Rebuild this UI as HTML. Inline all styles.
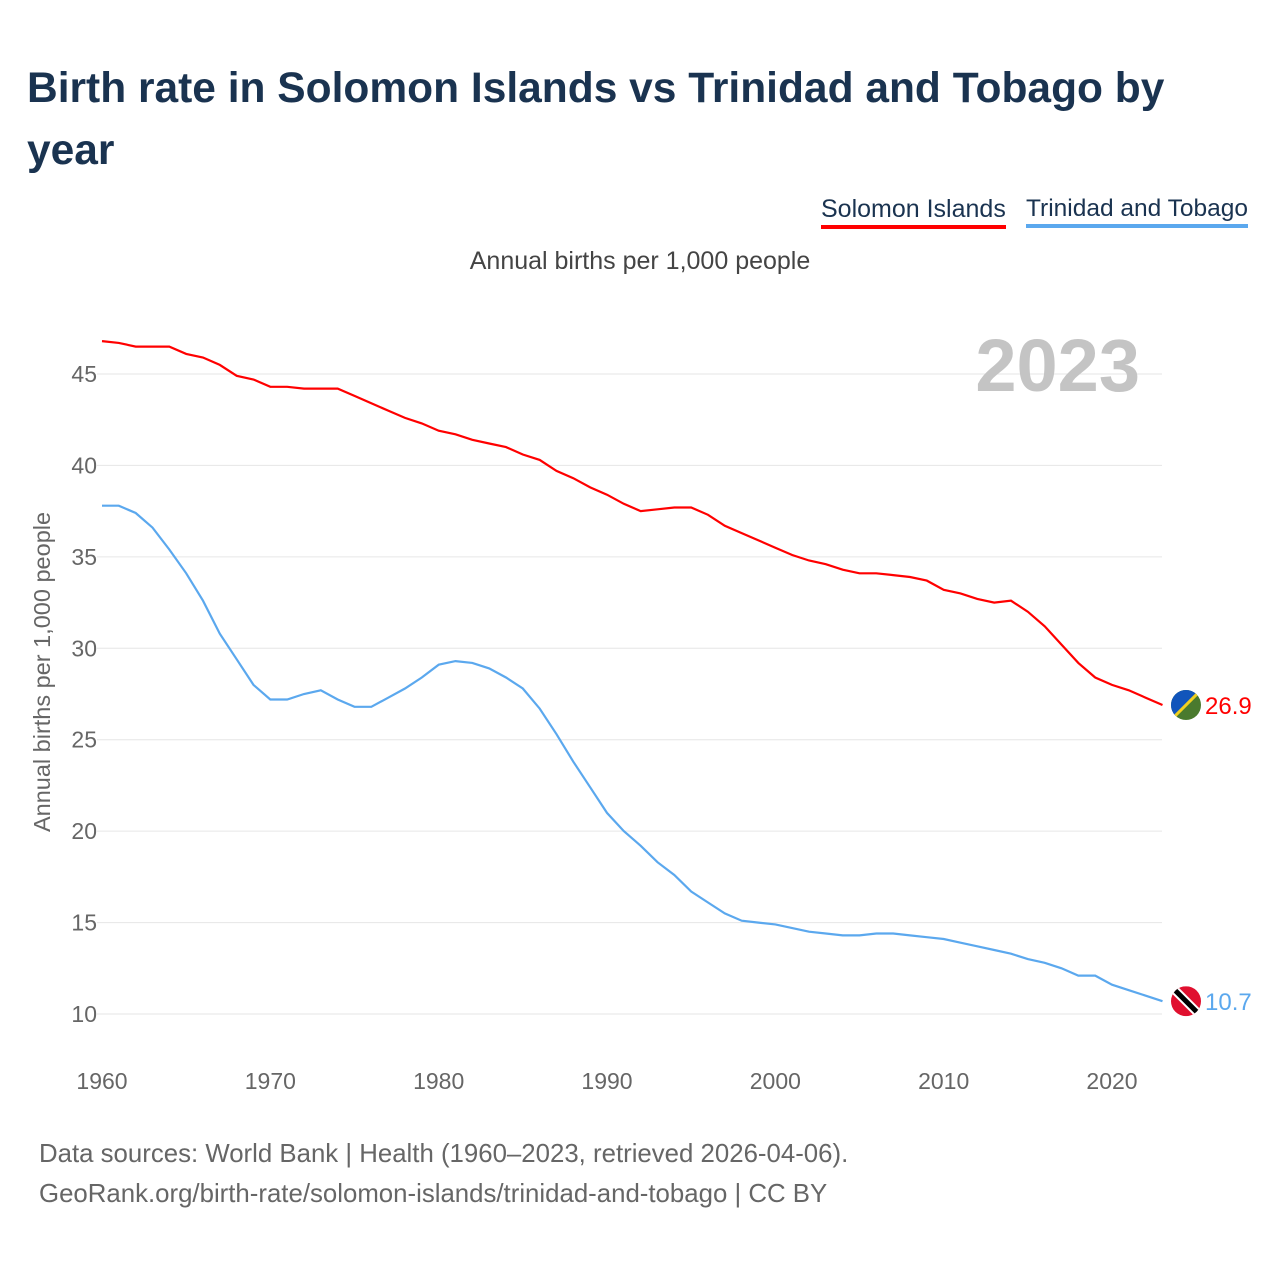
<!DOCTYPE html>
<html><head><meta charset="utf-8">
<style>
body{margin:0;background:#fff;font-family:"Liberation Sans",sans-serif;}
#wrap{position:relative;width:1280px;height:1280px;overflow:hidden;}
.t{position:absolute;white-space:nowrap;}
</style></head><body>
<div id="wrap">
<div class="t" style="left:27px;top:58px;font-size:42.5px;font-weight:bold;color:#1a3350;line-height:62px;">Birth rate in Solomon Islands vs Trinidad and Tobago by<br>year</div>
<div class="t" style="left:821px;top:195px;font-size:25px;color:#1a3350;border-bottom:4px solid #f00;padding-bottom:1px;">Solomon Islands</div>
<div class="t" style="left:1026px;top:195px;font-size:24.5px;color:#1a3350;border-bottom:4px solid #5ba8ee;padding-bottom:1px;">Trinidad and Tobago</div>
<div class="t" style="left:0;width:1280px;text-align:center;top:247px;font-size:25px;color:#444;">Annual births per 1,000 people</div>
<svg id="chart" width="1280" height="1280" style="position:absolute;left:0;top:0"></svg>
<div class="t" style="left:39px;top:1134px;font-size:25.8px;color:#666;line-height:40px;">Data sources: World Bank | Health (1960–2023, retrieved 2026-04-06).<br>GeoRank.org/birth-rate/solomon-islands/trinidad-and-tobago | CC BY</div>
</div>
<script>
const years=[];for(let y=1960;y<=2023;y++)years.push(y);
const solomon=[46.8,46.7,46.5,46.5,46.5,46.1,45.9,45.5,44.9,44.7,44.3,44.3,44.2,44.2,44.2,43.8,43.4,43.0,42.6,42.3,41.9,41.7,41.4,41.2,41.0,40.6,40.3,39.7,39.3,38.8,38.4,37.9,37.5,37.6,37.7,37.7,37.3,36.7,36.3,35.9,35.5,35.1,34.8,34.6,34.3,34.1,34.1,34.0,33.9,33.7,33.2,33.0,32.7,32.5,32.6,32.0,31.2,30.2,29.2,28.4,28.0,27.7,27.3,26.9];
const trinidad=[37.8,37.8,37.4,36.6,35.4,34.1,32.6,30.8,29.4,28.0,27.2,27.2,27.5,27.7,27.2,26.8,26.8,27.3,27.8,28.4,29.1,29.3,29.2,28.9,28.4,27.8,26.7,25.3,23.8,22.4,21.0,20.0,19.2,18.3,17.6,16.7,16.1,15.5,15.1,15.0,14.9,14.7,14.5,14.4,14.3,14.3,14.4,14.4,14.3,14.2,14.1,13.9,13.7,13.5,13.3,13.0,12.8,12.5,12.1,12.1,11.6,11.3,11.0,10.7];
const yTicks=[10,15,20,25,30,35,40,45];
const xTicks=[1960,1970,1980,1990,2000,2010,2020];
const svg=document.getElementById('chart');const NS='http://www.w3.org/2000/svg';
const xs=y=>102+(y-1960)*(1010/60);
const ys=v=>1014-(v-10)*(640/35);
function mk(tag,attrs,txt){const e=document.createElementNS(NS,tag);for(const k in attrs)e.setAttribute(k,attrs[k]);if(txt!==undefined)e.textContent=txt;svg.appendChild(e);return e;}
yTicks.forEach(v=>{
 const l=mk('line',{x1:97,x2:1162,y1:ys(v),y2:ys(v),stroke:'#e6e6e6','stroke-width':1});
 
 
 const t=mk('text',{x:97,y:ys(v)+8,'text-anchor':'end','font-size':23,fill:'#666','font-family':'Liberation Sans'},v);
 
 
});
xTicks.forEach(y=>{
 const t=mk('text',{x:xs(y),y:1089,'text-anchor':'middle','font-size':23,fill:'#666','font-family':'Liberation Sans'},y);
 
 
});
const yt=mk('text',{x:0,y:0,transform:'translate(50,672) rotate(-90)','text-anchor':'middle','font-size':23.5,fill:'#666','font-family':'Liberation Sans'},'Annual births per 1,000 people');


const yr=mk('text',{x:1140,y:391,'text-anchor':'end','font-size':74,'font-weight':'bold',fill:'#c4c4c4','font-family':'Liberation Sans'},'2023');


function line(data,color,name){
 const p=mk('path',{d:data.map((v,i)=>(i?'L':'M')+xs(years[i]).toFixed(1)+','+ys(v).toFixed(1)).join(''),fill:'none',stroke:color,'stroke-width':2.2});
 
 
}
line(solomon,'#ff0000','solomon-islands');
line(trinidad,'#5ba8ee','trinidad-and-tobago');
const sv=solomon[solomon.length-1],tv=trinidad[trinidad.length-1];
const fx=1186;
const sy=ys(sv),ty=ys(tv);
function clip(id,cy){const cp=mk('clipPath',{id:id});const c=document.createElementNS(NS,'circle');c.setAttribute('cx',fx);c.setAttribute('cy',cy);c.setAttribute('r',15);cp.appendChild(c);}
clip('c1',sy);clip('c2',ty);
mk('rect',{x:fx-15,y:sy-15,width:30,height:30,fill:'#4a7a2e','clip-path':'url(#c1)'});
mk('polygon',{points:`${fx-15},${sy-15} ${fx+15},${sy-15} ${fx-15},${sy+15}`,fill:'#1155bb','clip-path':'url(#c1)'});
mk('line',{x1:fx+15,y1:sy-15,x2:fx-15,y2:sy+15,stroke:'#f0d020','stroke-width':3,'clip-path':'url(#c1)'});
mk('rect',{x:fx-15,y:ty-15,width:30,height:30,fill:'#e0102f','clip-path':'url(#c2)'});
mk('line',{x1:fx-15,y1:ty-15,x2:fx+15,y2:ty+15,stroke:'#fff','stroke-width':9,'clip-path':'url(#c2)'});
mk('line',{x1:fx-15,y1:ty-15,x2:fx+15,y2:ty+15,stroke:'#000','stroke-width':5,'clip-path':'url(#c2)'});
const l1=mk('text',{x:1205,y:sy+9,'font-size':24,fill:'#ff0000','font-family':'Liberation Sans'},sv.toFixed(1));


const l2=mk('text',{x:1205,y:ty+9,'font-size':24,fill:'#5ba8ee','font-family':'Liberation Sans'},tv.toFixed(1));


</script>
</body></html>
